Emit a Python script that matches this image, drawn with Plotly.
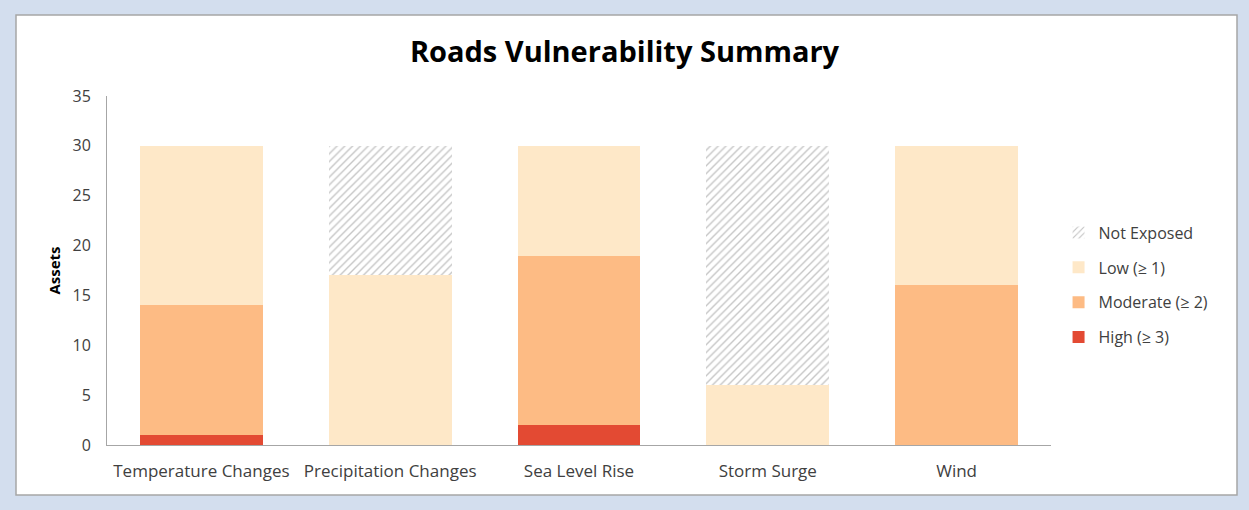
import plotly.graph_objects as go

categories = ["Temperature Changes", "Precipitation Changes", "Sea Level Rise", "Storm Surge", "Wind"]
high = [1, 0, 2, 0, 0]
moderate = [13, 0, 17, 0, 16]
low = [16, 17, 11, 6, 14]
not_exposed = [0, 13, 0, 24, 0]

series_names = ["High (≥ 3)", "Moderate (≥ 2)", "Low (≥ 1)", "Not Exposed"]
series_values = [high, moderate, low, not_exposed]
series_colors = ["#E34A33", "#FDBB84", "#FEE8C8", "#FFFFFF"]
legend_ranks = [4, 3, 2, 1]

fig = go.Figure()
for name, vals, col, rank in zip(series_names, series_values, series_colors, legend_ranks):
    marker = dict(color=col, line=dict(width=0))
    if name == "Not Exposed":
        marker["pattern"] = dict(shape="/", fgcolor="#8c8c8c", bgcolor="#FFFFFF", size=5.5, solidity=0.25)
    fig.add_trace(go.Bar(x=categories, y=vals, name=name, marker=marker, legendgroup=name,
                         legendrank=rank))

font_family = "'Open Sans', sans-serif"
fig.update_layout(
    barmode="stack",
    bargap=0.35,
    width=1249, height=510,
    margin=dict(l=107, r=198, t=96, b=65),
    paper_bgcolor="#D3DEEE",
    plot_bgcolor="#FFFFFF",
    font=dict(family=font_family, size=16, color="#404040"),
    title=dict(text="<b>Roads Vulnerability Summary</b>", x=0.50, xref="container", xanchor="center",
               y=1 - 52 / 510, yref="container", yanchor="middle",
               font=dict(size=29, color="#000000", family=font_family)),
    legend=dict(x=1.008, xanchor="left", y=0.458, yanchor="middle", traceorder="grouped",
                tracegroupgap=11, font=dict(size=16, color="#404040"), bgcolor="rgba(0,0,0,0)"),
    showlegend=True,
    shapes=[dict(type="rect", xref="paper", yref="paper", layer="below",
                 x0=(16 - 107) / 944, x1=(1237 - 107) / 944,
                 y0=(445 - 495) / 349, y1=(445 - 15) / 349,
                 fillcolor="#FFFFFF", line=dict(color="#A6A6A6", width=1.5))],
)
fig.update_yaxes(range=[0, 35], dtick=5, showgrid=False, zeroline=False, showline=True,
                 linecolor="#A6A6A6", linewidth=1, ticks="", ticklabelstandoff=12,
                 tickfont=dict(size=16, color="#404040"),
                 title=dict(text="<b>Assets</b>", font=dict(size=15, color="#000000"), standoff=8))
fig.update_xaxes(showgrid=False, showline=True, linecolor="#A6A6A6", linewidth=1, ticks="",
                 ticklabelstandoff=11, tickfont=dict(size=17, color="#404040"))

fig.write_html("out.html", config={"displayModeBar": False},
               post_script="document.body.style.margin='0';document.body.style.background='#D3DEEE';")
